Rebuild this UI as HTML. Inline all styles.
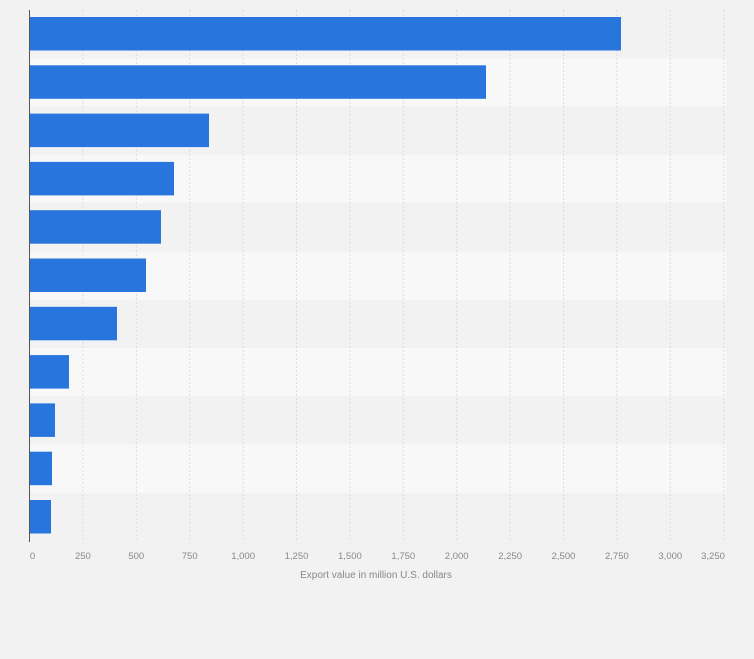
<!DOCTYPE html>
<html><head><style>
body{margin:0;background:#f2f2f2;}
svg{display:block;font-family:"Liberation Sans",sans-serif;}
</style></head><body>
<svg id="c" width="754" height="659" xmlns="http://www.w3.org/2000/svg">
<rect width="754" height="659" fill="#f2f2f2"/>
</svg>
<script>
(function(){
var s=document.getElementById('c'),ns='http://www.w3.org/2000/svg';
function el(n,a,t){var e=document.createElementNS(ns,n);for(var k in a)e.setAttribute(k,a[k]);if(t)e.textContent=t;s.appendChild(e);return e;}
var ty0=10,bh=48.3;
for(var i=0;i<11;i++){el('rect',{x:30,y:ty0+i*bh,width:696,height:bh,fill:i%2?'#f8f8f8':'#f2f2f2'});}
var st=53.4;
for(var j=1;j<=13;j++){var x=29.5+j*st;el('line',{x1:x,y1:10,x2:x,y2:541,stroke:'#dcdcdc','stroke-dasharray':'2,2','stroke-width':1});}
var ends=[621,486,209,174,161,146,117,69,55,52,51];
for(var i=0;i<11;i++){el('rect',{x:30,y:ty0+i*bh+7,width:ends[i]-30,height:33.5,fill:'#2876dd'});}
el('line',{x1:29.5,y1:10,x2:29.5,y2:542,stroke:'#555','stroke-width':1});
var labs=['0','250','500','750','1,000','1,250','1,500','1,750','2,000','2,250','2,500','2,750','3,000','3,250'];
for(var j=0;j<14;j++){var x=29.5+j*st;if(j==0)x=32.5;if(j==13)x=713;el('text',{x:x,y:559,'font-size':9.5,fill:'#888','text-anchor':'middle'},labs[j]);}
el('text',{x:376,y:578,'font-size':10,fill:'#888','text-anchor':'middle'},'Export value in million U.S. dollars');
})();
</script>
</body></html>
